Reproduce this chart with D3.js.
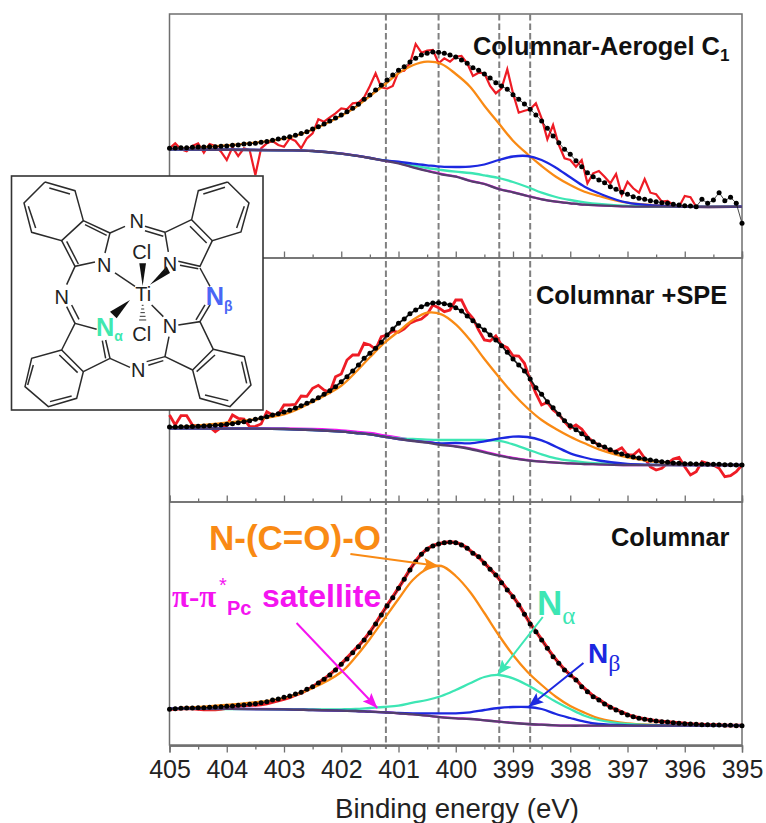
<!DOCTYPE html>
<html lang="en">
<head>
  <meta charset="UTF-8" />
  <title>N 1s XPS spectra</title>
  <script src="https://d3js.org/d3.v7.min.js"></script>
  <style>
    html, body { margin: 0; padding: 0; background: #fff; }
    svg { display: block; }
    text { font-family: "Liberation Sans", Arial, sans-serif; }
    .greek { font-family: "Liberation Serif", "DejaVu Serif", serif; font-weight: normal; }
  </style>
</head>
<body>
  <div id="chart"></div>

  <script>
    // binding energy of the measured points (eV)
    const energy = [405,404.9,404.8,404.7,404.6,404.5,404.4,404.3,404.2,404.1,404,403.9,403.8,403.7,403.6,403.5,403.4,403.3,403.2,403.1,403,402.9,402.8,402.7,402.6,402.5,402.4,402.3,402.2,402.1,402,401.9,401.8,401.7,401.6,401.5,401.4,401.3,401.2,401.1,401,400.9,400.8,400.7,400.6,400.5,400.4,400.3,400.2,400.1,400,399.9,399.8,399.7,399.6,399.5,399.4,399.3,399.2,399.1,399,398.9,398.8,398.7,398.6,398.5,398.4,398.3,398.2,398.1,398,397.9,397.8,397.7,397.6,397.5,397.4,397.3,397.2,397.1,397,396.9,396.8,396.7,396.6,396.5,396.4,396.3,396.2,396.1,396,395.9,395.8,395.7,395.6,395.5,395.4,395.3,395.2,395.1,395];
    // energies where the fitted components were read
    const compEnergy = [405,403,402.5,402,401.75,401.5,401.25,401,400.75,400.5,400.25,400,399.75,399.5,399.25,399,398.75,398.5,398.25,398,397.75,397.5,397,396,395];

    const peakLines = [401.22, 400.3, 399.24, 398.7];
    const xTicks = [405,404,403,402,401,400,399,398,397,396,395];

    // Columnar-Aerogel C1
    const raw1 = [108.7,113.7,107.7,105.7,111,113.7,104.3,113,111,105.3,97,109.7,101,108.7,107,82,108.7,113.7,116,112,110.3,118.7,116,108.7,118.7,123.7,137.7,135.3,139.7,143.7,148.7,147.7,153.7,154.3,159.7,171,183.7,169.7,168.3,171,185.3,186.3,193.7,213,204.3,206.3,207,193.7,198.7,195.3,200.3,201,193.7,181,184.3,183.7,171,163.7,168.7,187.7,163.7,144.3,146.3,147.7,153.7,138.7,117.7,132,112,98.7,97,90.3,97,73.7,83.7,86,80.3,73.7,83,62,75.3,68.7,64.3,78,64.3,62.7,55.3,56,52,50.3,61,59.7,50.3];
    const fit1 = [108.7,108.9,109.2,109.3,109.7,109.9,110,110.3,110.3,110.7,111,111.7,112,113,113.3,113.8,114.7,115.5,116.7,118,119,120.3,121.7,123.5,125.3,128,130.3,133,136,139,142,145.3,148.7,152.7,157.7,162,167,171.7,177,182,186.7,190.3,195,198.7,202,203.7,205,204.7,203.7,202,200,197,193.7,189.3,186.7,183,179,174.3,171,167.7,162.3,157.7,153,147.7,142,136,128.7,121,114.3,107.7,102.7,96.3,90.3,84.3,80.3,77,74.3,70.3,67.7,64.7,62.7,60.3,58.7,57.7,56.3,55.3,54.3,53.7,52.7,52,51.3,51,50.3,57.7,53.7,57,64.3,56.3,59.7,53.7,33.7];
    const orange1 = [107.7,118.3,127.3,141.3,149.7,161,172,183.7,191.7,195.3,193,183,170.3,151.3,133.7,116.3,103,91,80.3,72,65.3,61,54.3,50.3,50.3];
    const teal1 = [107.7,106.7,106,103.3,101.3,99,96.7,94.3,91.7,89,87,85.3,84,81.7,79,75,70,64.3,60,57,54.7,53,51,50.3,50.3];
    const blue1 = [107.7,106.7,106,103.3,101.3,99,96.7,95.3,93.3,91.7,90.3,90,90.3,92.5,97,100.5,101,97,89.3,79.7,70.3,63.7,54.3,50.3,50.3];
    const magenta1 = [107.8,106.8,106.1,103.5,101.5,99.2,96.5,94,90,86.3,83,80.6,76.3,73.2,68.2,64.8,61.1,57.8,55.3,53.7,52.3,51.7,50.7,50.3,50.3];
    const shirley1 = [107.7,106.7,106,103.3,101.3,99,96.3,93.7,89.7,86,82.7,80.3,76,73,68,64.7,61,57.7,55.3,53.7,52.3,51.7,50.7,50.3,50.3];

    // Columnar +SPE
    const raw2 = [86,76,85.3,85.3,76,74.7,74.3,74,69.3,73.3,75.3,86,82.7,82,74.3,74.7,77,89.3,86,86.7,96,96,96.7,105,104.7,112.7,115.7,111,108.7,124.3,127,141,146,146,157.7,156,151.7,164.3,166,170,168.7,172,177.7,180.3,182,186.7,196,193.3,189.3,191,201,201,189.3,182.7,171,161,160,165,156,153.3,145.3,145,137.7,121,107.7,96,98.7,91,86.7,79.3,72.7,76,72,64.3,59.3,56,53.7,49.3,50,53.3,46,46,51,42.7,34,31,32.7,37.7,42,43.7,34.3,26,29.3,39.3,37.7,36,32.7,24.3,25.3,29.3,36];
    const fit2 = [74,74,74.2,74.3,74.5,74.7,75,75.3,75.7,76,76.7,77.3,78.3,79.3,80.3,81.7,83,84.3,86,87.3,89,90.7,93,95.3,97.7,100.3,103.3,106.7,110.3,114.3,119.3,124.3,130,136,142.7,147.7,152.7,158.7,166,172,177.7,182,187.3,191,194.3,196.7,198,198.3,197.3,196,193.3,190,185,180.3,175.3,171,166,161,155.3,148.7,142,136,130,122,113.3,106.7,99.3,93.3,86.7,80.3,75.3,71.3,67.3,62.7,59.3,56,54,51.3,48.7,47,45.3,44,43,42,41,40,39.3,38.7,38,37.7,37.3,37.3,37,37,36.7,36.7,36.7,36.3,36.3,36,36];
    const orange2 = [73.3,86.7,99.3,115.3,128.7,143.7,158,169.5,181,188.3,186.7,176.7,161,142,124.3,107.5,93,81,72,64.3,57.7,51.7,43.7,36.7,36];
    const teal2 = [72.7,72,71,69.3,68,66.7,64.3,62.7,62,61.3,61,61,61,61,60.3,56.7,51.7,46.7,42.7,40.3,38.7,37.7,36.3,36,36];
    const blue2 = [72.7,72,71,69.3,68,66.7,64.3,62,60.3,58.7,57.7,58,57.7,59.7,62.3,64.3,64,60.7,54.3,47.7,43.5,40.5,37,36,36];
    const magenta2 = [73,72.7,72,70.7,69.3,68,65.7,63.3,61,59.3,56.7,54.7,52.7,49.3,46,43,41,39.3,38.3,37.7,37,36.7,36,36,36];
    const shirley2 = [72.7,72,71,69.3,68,66.7,64.3,62,60,58.3,56,54.5,52,48.7,45.3,42.7,40.7,39.3,38.3,37.7,37,36.7,36,36,36];

    // Columnar
    const raw3 = [36,36,36.5,36.5,36.5,36,35.5,35.5,35.5,36,37,38,39,39.5,40,40,40.5,41.5,43,44.5,46,47.5,50,52,55,58,62,66,70.5,75.5,81,87,93,99,105.5,113,121.5,130.5,139.5,148,157,166,175.5,184,191,196,199.5,201,202.5,203,202.5,200.5,197,192,188,182,176,170,163,155.5,148.5,140.5,131,121.5,113.5,105.5,97,89,82,75.5,70,65.5,59,54,49,45.5,41.5,38,35.5,33,30.5,28.5,27,26,25,24,23.5,23,22.5,22,21.5,21,20.5,20.5,20,20,20,19.5,19.5,19.5,19.5];
    const fit3 = [35.7,36.3,36.7,37,37,37.3,37.3,37.7,38,38.3,38.7,39,39.7,40,40.7,41.3,42.3,43.3,45,46,47.7,49,51,52.7,55.7,58.3,62,65.7,70,75,80.7,86,92.3,98.3,105,112.3,121,130,139,147.3,156.7,165.7,175,183.3,190.7,195.7,199,201,202.3,202.7,202.3,200,196.7,191.7,188.3,181.7,175.7,170,162.3,155,148.3,140,130.7,121,113.3,105,96.7,88.3,81.7,75,70,65,58.3,53.3,48.3,45,41,37.7,35,32.3,30,28.3,26.7,25.7,24.7,24,23.3,23,22.3,21.7,21.3,21,20.7,20.3,20.3,20,20,19.7,19.7,19.3,19.3];
    const orange3 = [36.3,47,57,73,88,106,126,146,165,176,179,169,153,132,110,90,73.3,60,48.3,39,32.3,26.7,21.7,19.3,19.3];
    const teal3 = [36.3,35.7,35.5,35.7,36,37,38,39.3,42.3,45,49,55,61.7,68,70,66.7,60,51.7,43.3,36,29.3,25,21,19.3,19.3];
    const blue3 = [36.3,35.7,35,34.3,34,33.3,32.7,32,31.7,31.7,31.7,31.7,32.7,35,37,38,38,36,31,27,23.3,21,19.7,19.3,19.3];
    const magenta3 = [36.4,35.8,35.1,34.4,34.1,33.4,32.8,31.8,30.8,29.4,27.8,26.8,26.1,24.8,23.4,22.1,21,20.3,19.7,19.3,19.3,19.3,19.3,19.3,19.3];
    const shirley3 = [36.3,35.7,35,34.3,34,33.3,32.7,31.7,30.7,29.3,27.7,26.7,26,24.7,23.3,22,21,20.3,19.7,19.3,19.3,19.3,19.3,19.3,19.3];

    const RED = "#ee1c25", ORANGE = "#f98a14", TEAL = "#3de6b4", BLUE = "#1c28e0",
          MAGENTA = "#f414f0", SHIRLEY = "#54406c", FRAME = "#6f6f6f", DASH = "#808080";

    const chartWidth = 766, chartHeight = 823;
    const plotLeft = 169.5, plotRight = 742, plotTop = 14;
    const bottoms = [257, 501, 745];

    const svg = d3.select("#chart").append("svg")
      .attr("width", chartWidth)
      .attr("height", chartHeight);

    const x = d3.scaleLinear().domain([405, 395]).range([plotLeft, plotRight]);
    const panelY = b => d3.scaleLinear().domain([0, 243]).range([b, b - 243]);

    // arrow heads, one per colour
    [ORANGE, TEAL, BLUE, MAGENTA].forEach(c => {
      svg.append("marker")
        .attr("id", "head" + c.slice(1))
        .attr("markerUnits", "userSpaceOnUse")
        .attr("markerWidth", 16).attr("markerHeight", 12)
        .attr("refX", 15).attr("refY", 6)
        .attr("orient", "auto")
        .append("path")
        .attr("d", "M0,0L15,6L0,12L3,6Z")
        .attr("fill", c);
    });

    // frame
    svg.append("rect")
      .attr("x", plotLeft).attr("y", plotTop)
      .attr("width", plotRight - plotLeft).attr("height", bottoms[2] - plotTop)
      .attr("fill", "none").attr("stroke", FRAME).attr("stroke-width", 1.5);

    // peak positions run through all panels
    svg.selectAll(".peak")
      .data(peakLines)
      .enter().append("line")
      .attr("class", "peak")
      .attr("x1", d => x(d)).attr("x2", d => x(d))
      .attr("y1", plotTop).attr("y2", bottoms[2] + 4)
      .attr("stroke", DASH).attr("stroke-width", 2)
      .attr("stroke-dasharray", "6.5,3");

    // axis of each panel: upper ones tick inward, the bottom one outward with labels
    bottoms.forEach((b, i) => {
      const last = i === 2;
      const ax = svg.append("g").attr("transform", `translate(0,${b + 0.5})`);
      const major = d3.axisBottom(x).tickValues(xTicks).tickSize(last ? 7 : -6)
        .tickFormat(last ? d3.format("d") : "");
      ax.call(major);
      const minor = d3.axisBottom(x).tickValues(xTicks.slice(1).map(d => d + 0.5)).tickSize(last ? 4 : -3).tickFormat("");
      ax.append("g").call(minor);
      ax.selectAll("path, line").attr("stroke", FRAME).attr("stroke-width", 1.3);
      ax.selectAll("text")
        .attr("dy", null).attr("y", 32)
        .style("font-family", "'Liberation Sans', Arial, sans-serif")
        .style("font-size", "25px")
        .attr("fill", "#222");
    });

    const panels = [
      { b: bottoms[0], raw: raw1, fit: fit1, orange: orange1, teal: teal1, blue: blue1, magenta: magenta1, shirley: shirley1, rawW: 2.2, fitW: 0.8 },
      { b: bottoms[1], raw: raw2, fit: fit2, orange: orange2, teal: teal2, blue: blue2, magenta: magenta2, shirley: shirley2, rawW: 2.8, fitW: 1.8 },
      { b: bottoms[2], raw: raw3, fit: fit3, orange: orange3, teal: teal3, blue: blue3, magenta: magenta3, shirley: shirley3, rawW: 3.4, fitW: 1 }
    ];

    panels.forEach(p => {
      const y = panelY(p.b);
      const g = svg.append("g");
      const comp = d3.line()
        .x((d, i) => x(compEnergy[i]))
        .y(d => y(d))
        .curve(d3.curveCatmullRom.alpha(0.5));
      const meas = d3.line()
        .x((d, i) => x(energy[i]))
        .y(d => y(d));

      g.append("path").attr("d", meas(p.raw))
        .attr("fill", "none").attr("stroke", RED)
        .attr("stroke-width", p.rawW).attr("stroke-linejoin", "miter");

      [[p.orange, ORANGE], [p.magenta, MAGENTA], [p.teal, TEAL], [p.blue, BLUE], [p.shirley, SHIRLEY]].forEach(c => {
        g.append("path").attr("d", comp(c[0]))
          .attr("fill", "none").attr("stroke", c[1]).attr("stroke-width", 2.3);
      });

      g.append("path").attr("d", meas(p.fit))
        .attr("fill", "none").attr("stroke", "#1a1a1a").attr("stroke-width", p.fitW);

      g.selectAll("circle")
        .data(p.fit)
        .enter().append("circle")
        .attr("cx", (d, i) => x(energy[i]))
        .attr("cy", d => y(d))
        .attr("r", 2.5)
        .attr("fill", "#000");
    });

    // panel names
    const label = (px, py, size, color, bold) => svg.append("text")
      .attr("x", px).attr("y", py)
      .attr("fill", color)
      .style("font-size", size + "px")
      .style("font-weight", bold ? "bold" : "normal");

    const t1 = label(473, 55, 25.4, "#111", true).text("Columnar-Aerogel C");
    t1.append("tspan").attr("dy", 6).style("font-size", "17px").text("1");
    label(536, 304, 25.4, "#111", true).text("Columnar +SPE");
    label(611, 546, 25.4, "#111", true).text("Columnar");

    // annotations of the bottom panel
    label(209, 550, 35, ORANGE, true).text("N-(C=O)-O");

    label(172, 607, 31, MAGENTA, true).attr("class", "greek").text("π-π");
    label(219, 592, 20, MAGENTA, false).text("*");
    label(227, 615, 20, MAGENTA, true).text("Pc");
    label(262, 607, 32, MAGENTA, true).text("satellite");

    const na = label(537, 615, 35, TEAL, true).text("N");
    na.append("tspan").attr("class", "greek").attr("dy", 9).style("font-size", "25px").text("α");
    const nb = label(588, 663, 28, BLUE, true).text("N");
    nb.append("tspan").attr("class", "greek").attr("dy", 8).style("font-size", "24px").text("β");

    const yBottom = panelY(bottoms[2]);
    const arrows = [
      { from: [401.84, 191], to: [400.3, 179], color: ORANGE },
      { from: [402.78, 122], to: [401.37, 37], color: MAGENTA },
      { from: [398.48, 128], to: [399.27, 70], color: TEAL },
      { from: [397.77, 82], to: [398.73, 38], color: BLUE }
    ];
    svg.selectAll(".arrow")
      .data(arrows)
      .enter().append("line")
      .attr("class", "arrow")
      .attr("x1", d => x(d.from[0])).attr("y1", d => yBottom(d.from[1]))
      .attr("x2", d => x(d.to[0])).attr("y2", d => yBottom(d.to[1]))
      .attr("stroke", d => d.color).attr("stroke-width", 2)
      .attr("marker-end", d => `url(#head${d.color.slice(1)})`);

    svg.append("text")
      .attr("x", 457).attr("y", 818)
      .attr("text-anchor", "middle")
      .attr("fill", "#222")
      .style("font-size", "27.6px")
      .text("Binding energy (eV)");

    // inset with the molecule, drawn at 3x and scaled down
    svg.append("rect")
      .attr("x", 11.5).attr("y", 176).attr("width", 251.5).attr("height", 234)
      .attr("fill", "#fff").attr("stroke", "#333").attr("stroke-width", 1.6);

    const mol = svg.append("g").attr("transform", "translate(0,160) scale(0.3333)");

    const ringPaths = [
      [[135,66],[225,92],[250,182],[185,242],[95,217],[72,129],[135,66]],
      [[683,66],[747,129],[723,216],[637,242],[575,179],[595,92],[683,66]],
      [[640,568],[733,590],[753,675],[690,740],[600,715],[578,630],[640,568]],
      [[185,570],[250,635],[230,715],[145,740],[75,680],[95,595],[185,570]],
      [[250,182],[330,219],[315,279]], [[285,306],[225,319],[185,242]],
      [[575,179],[495,217],[505,276]], [[535,304],[600,319],[637,242]],
      [[640,568],[600,485],[535,495]], [[507,530],[495,590],[578,630]],
      [[185,570],[225,490],[290,508]], [[317,540],[330,595],[250,635]]
    ];
    const bonds = [
      [148,84,210,102],[85,139,107,204],[255,194,320,226],[200,244,235,312],
      [330,219,375,199],[225,319,200,374],[345,339,405,379],
      [610,102,675,82],[733,139,710,204],[570,199,620,249],[540,316,595,326],
      [435,199,495,217],[435,212,490,229],[600,324,630,379],
      [200,440,225,490],[215,435,237,478],
      [178,585,233,638],[100,615,83,675],[150,725,215,708],
      [307,542,317,595],[330,595,390,622],
      [440,605,495,590],[445,616,490,602],
      [645,585,590,635],[725,605,740,670],[685,722,615,705],
      [600,485,630,435],[588,480,615,435],[455,435,490,470]
    ];
    mol.selectAll("path.ring")
      .data(ringPaths)
      .enter().append("path")
      .attr("class", "ring")
      .attr("d", d3.line())
      .attr("fill", "none").attr("stroke", "#2b2b2b").attr("stroke-width", 4.5);
    mol.selectAll("line.bond")
      .data(bonds)
      .enter().append("line")
      .attr("class", "bond")
      .attr("x1", d => d[0]).attr("y1", d => d[1]).attr("x2", d => d[2]).attr("y2", d => d[3])
      .attr("stroke", "#2b2b2b").attr("stroke-width", 4.5);

    // wedge bonds around Ti
    const wedges = [
      [[428,378],[418,310],[438,310]],
      [[450,374],[500,319],[510,339]],
      [[390,420],[330,455],[350,475]]
    ];
    mol.selectAll("polygon")
      .data(wedges)
      .enter().append("polygon")
      .attr("points", d => d.join(" "))
      .attr("fill", "#111");
    const hashes = [[428,436,4],[428,447,7],[428,458,10],[428,469,13],[428,480,16]];
    mol.selectAll("line.hash")
      .data(hashes)
      .enter().append("line")
      .attr("class", "hash")
      .attr("x1", d => d[0] - d[2] / 1.5).attr("x2", d => d[0] + d[2] / 1.5)
      .attr("y1", d => d[1]).attr("y2", d => d[1])
      .attr("stroke", "#333").attr("stroke-width", 3);

    const atoms = [
      ["N", 410, 205], ["N", 313, 335], ["N", 510, 333], ["N", 185, 432],
      ["N", 510, 520], ["N", 415, 650], ["Cl", 425, 298], ["Cl", 425, 544], ["Ti", 430, 424]
    ];
    mol.selectAll("text.atom")
      .data(atoms)
      .enter().append("text")
      .attr("class", "atom")
      .attr("x", d => d[1]).attr("y", d => d[2])
      .attr("text-anchor", "middle")
      .attr("fill", "#222")
      .style("font-size", "60px")
      .text(d => d[0]);

    const nAlpha = mol.append("text").attr("x", 288).attr("y", 527).attr("fill", "#3fe8b0")
      .style("font-size", "76px").style("font-weight", "bold").text("N");
    nAlpha.append("tspan").attr("dy", 17).style("font-size", "42px").text("α");
    const nBeta = mol.append("text").attr("x", 617).attr("y", 435).attr("fill", "#4a66f5")
      .style("font-size", "76px").style("font-weight", "bold").text("N");
    nBeta.append("tspan").attr("dy", 17).style("font-size", "42px").text("β");
  </script>
</body>
</html>
